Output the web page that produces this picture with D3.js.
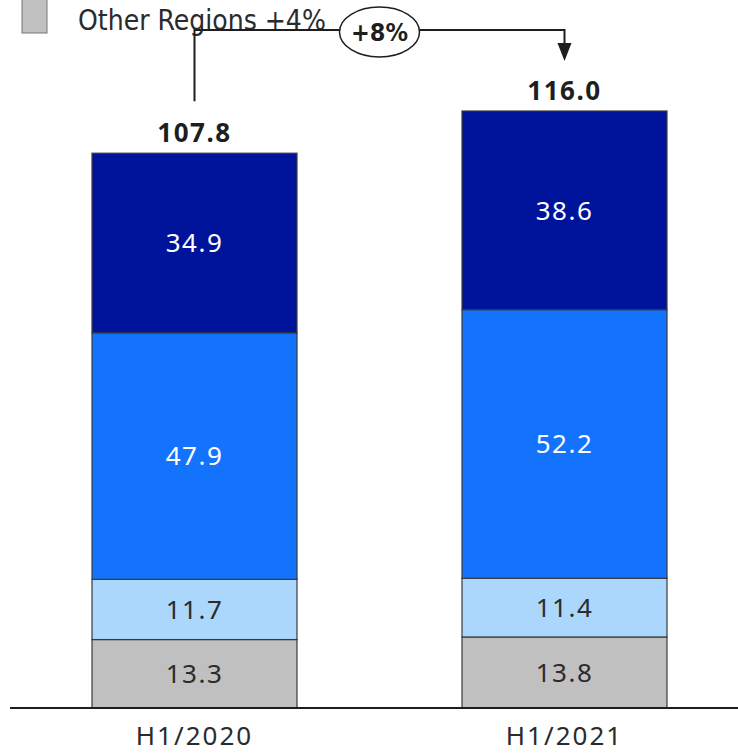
<!DOCTYPE html>
<html>
<head>
<meta charset="utf-8">
<script src="https://cdn.jsdelivr.net/npm/d3@7"></script>
<style>
  body { margin: 0; background: #fff; }
  svg { display: block; }
</style>
</head>
<body>
<div id="chart"></div>
<script>
// values
var categories = ["H1/2020", "H1/2021"];
var keys = ["Other Regions", "Region 3", "Region 2", "Region 1"];
var otherRegions = [13.3, 13.8];
var region3 = [11.7, 11.4];
var region2 = [47.9, 52.2];
var region1 = [34.9, 38.6];
var totals = [107.8, 116.0];
var legendLabel = "Other Regions +4%";
var growthLabel = "+8%";

var colors = ["#c0c0c0", "#acd7fd", "#1473fd", "#00139b"];
var textColors = ["#2b2b2b", "#2b2b2b", "#ffffff", "#ffffff"];

var width = 738, height = 754;
var baseY = 708;
var font = "'Noto Sans', 'Open Sans', sans-serif";
var narrow = "'Liberation Sans Narrow', 'DejaVu Sans Condensed', sans-serif";

var rows = categories.map(function(c, i) {
  return {cat: c, "Other Regions": otherRegions[i], "Region 3": region3[i],
          "Region 2": region2[i], "Region 1": region1[i]};
});

var svg = d3.select("#chart").append("svg")
    .attr("width", width)
    .attr("height", height);

var x = d3.scaleBand()
    .domain(categories)
    .range([9.5, 749.5])
    .paddingInner(0.446)
    .paddingOuter(0.223);

var y = d3.scaleLinear()
    .domain([0, d3.max(totals)])
    .range([baseY, 111]);

var stacked = d3.stack().keys(keys)(rows);

var layer = svg.selectAll("g.layer")
    .data(stacked)
    .enter().append("g")
    .attr("class", "layer");

layer.selectAll("rect")
    .data(function(d) { return d; })
    .enter().append("rect")
    .attr("x", function(d) { return x(d.data.cat); })
    .attr("y", function(d) { return y(d[1]); })
    .attr("width", x.bandwidth())
    .attr("height", function(d) { return y(d[0]) - y(d[1]); })
    .attr("fill", function() { return colors[keys.indexOf(d3.select(this.parentNode).datum().key)]; })
    .attr("stroke", "#3a3a3a")
    .attr("stroke-width", 1.2);

layer.selectAll("text")
    .data(function(d) { return d.map(function(p) { return {p: p, key: d.key}; }); })
    .enter().append("text")
    .attr("x", function(d) { return x(d.p.data.cat) + x.bandwidth() / 2; })
    .attr("y", function(d) { return (y(d.p[0]) + y(d.p[1])) / 2; })
    .attr("dy", "0.36em")
    .attr("text-anchor", "middle")
    .attr("font-family", font)
    .attr("font-size", 26)
    .attr("letter-spacing", 1.5)
    .attr("fill", function(d) { return textColors[keys.indexOf(d.key)]; })
    .text(function(d) { return (d.p[1] - d.p[0]).toFixed(1); });

// totals
svg.selectAll("text.total")
    .data(totals)
    .enter().append("text")
    .attr("class", "total")
    .attr("x", function(d, i) { return x(categories[i]) + x.bandwidth() / 2; })
    .attr("y", function(d) { return y(d) - 11; })
    .attr("text-anchor", "middle")
    .attr("font-family", font)
    .attr("font-weight", "bold")
    .attr("font-size", 26)
    .attr("letter-spacing", 1.5)
    .attr("fill", "#1e1e1e")
    .text(function(d) { return d.toFixed(1); });

// x axis
svg.append("line")
    .attr("x1", 10).attr("x2", width)
    .attr("y1", baseY).attr("y2", baseY)
    .attr("stroke", "#1e1e1e")
    .attr("stroke-width", 2);

svg.selectAll("text.cat")
    .data(categories)
    .enter().append("text")
    .attr("class", "cat")
    .attr("x", function(d) { return x(d) + x.bandwidth() / 2; })
    .attr("y", 745)
    .attr("text-anchor", "middle")
    .attr("font-family", font)
    .attr("font-size", 26)
    .attr("letter-spacing", 2)
    .attr("fill", "#2b2b2b")
    .text(function(d) { return d; });

// legend (only the last item is visible)
svg.append("rect")
    .attr("x", 22).attr("y", -6)
    .attr("width", 25).attr("height", 39)
    .attr("fill", colors[0])
    .attr("stroke", "#777")
    .attr("stroke-width", 1);

svg.append("text")
    .attr("x", 78).attr("y", 30)
    .attr("font-family", narrow)
    .attr("font-size", 28)
    .attr("fill", "#2b2b2b")
    .text(legendLabel);

// growth arrow
var x1c = x(categories[0]) + x.bandwidth() / 2;
var x2c = x(categories[1]) + x.bandwidth() / 2;
var topY = 30;

svg.append("path")
    .attr("d", "M" + x1c + "," + (y(totals[0]) - 52) +
               " V" + topY + " H" + x2c + " V" + (y(totals[1]) - 56))
    .attr("fill", "none")
    .attr("stroke", "#1e1e1e")
    .attr("stroke-width", 2);

svg.append("path")
    .attr("d", "M" + (x2c - 7) + "," + (y(totals[1]) - 68) +
               " L" + (x2c + 7) + "," + (y(totals[1]) - 68) +
               " L" + x2c + "," + (y(totals[1]) - 50) + " Z")
    .attr("fill", "#1e1e1e");

var ex = (x1c + x2c) / 2;
svg.append("ellipse")
    .attr("cx", ex).attr("cy", 32)
    .attr("rx", 40).attr("ry", 25)
    .attr("fill", "#fff")
    .attr("stroke", "#1e1e1e")
    .attr("stroke-width", 1.5);

svg.append("text")
    .attr("x", ex).attr("y", 32)
    .attr("dy", "0.36em")
    .attr("text-anchor", "middle")
    .attr("font-family", narrow)
    .attr("font-weight", "bold")
    .attr("font-size", 25)
    .attr("fill", "#1e1e1e")
    .text(growthLabel);
</script>
</body>
</html>
